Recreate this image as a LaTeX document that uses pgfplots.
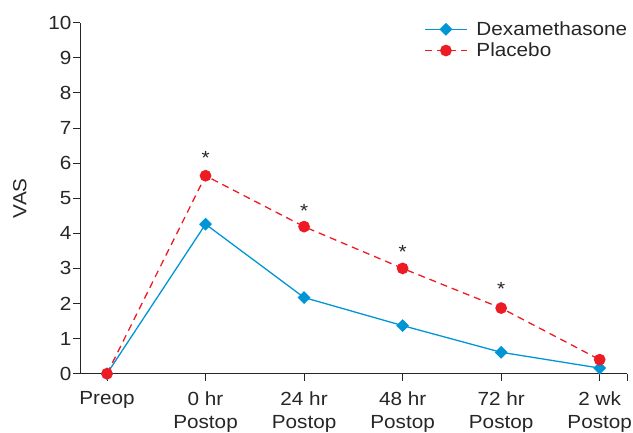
\documentclass[border=0pt]{standalone}
\usepackage{pgfplots}
\pgfplotsset{compat=1.18}
\usepackage{fontspec}
\setmainfont{Liberation Sans}[FakeStretch=1.09]
\definecolor{dexblue}{HTML}{0096D6}
\definecolor{plred}{HTML}{ED1C24}
\begin{document}
\begin{tikzpicture}
\begin{axis}[
  scale only axis,
  width=547pt, height=351pt,
  xmin=-0.274, xmax=5.277,
  ymin=0, ymax=10,
  axis lines=left,
  axis line style={-, line width=0.9pt, black!85},
  x axis line style={-},
  y axis line style={-},
  xtick={0,1,2,3,4,5},
  extra x ticks={5.277},
  extra x tick labels={},
  xticklabels={Preop,{0 hr\\Postop},{24 hr\\Postop},{48 hr\\Postop},{72 hr\\Postop},{2 wk\\Postop}},
  xticklabel style={align=center, font=\fontsize{19}{23.5}\selectfont, text=black!85, yshift=-7pt},
  ytick={0,1,...,10},
  yticklabel style={font=\fontsize{19}{22}\selectfont, text=black!85, xshift=2pt},
  /pgf/number format/assume math mode=true,
  tick align=outside,
  major tick length=7pt,
  tick style={line width=0.9pt, black!85},
  ylabel={VAS},
  ylabel style={font=\fontsize{19}{22}\selectfont, text=black!85, at={(axis description cs:-0.11,0.5)}, anchor=center},
  legend style={at={(1.01,1.015)}, anchor=north east, draw=none, fill=none,
    font=\fontsize{19}{22}\selectfont, text=black!85, row sep=2pt},
  legend cell align=left,
  legend image code/.code={\draw[mark repeat=2,mark phase=2,#1] plot coordinates {(0cm,0cm) (0.74cm,0cm) (1.48cm,0cm)}; \path (1.72cm,0cm);},
  clip=false,
]
\addplot[color=dexblue, line width=1.3pt, mark=square*, mark size=3.9pt, mark options={solid, fill=dexblue, rotate=45}]
  coordinates {(0,0) (1,4.26) (2,2.17) (3,1.37) (4,0.61) (5,0.16)};
\addlegendentry{Dexamethasone}
\addplot[color=plred, line width=1.3pt, dash pattern=on 7pt off 5pt, mark=*, mark size=5.2pt, mark options={solid, fill=plred}]
  coordinates {(0,0) (1,5.64) (2,4.19) (3,3.00) (4,1.87) (5,0.40)};
\addlegendentry{Placebo}
\node[anchor=north, inner sep=0pt, font=\fontsize{19}{22}\selectfont, text=black!85] at (axis cs:1,6.35) {*};
\node[anchor=north, inner sep=0pt, font=\fontsize{19}{22}\selectfont, text=black!85] at (axis cs:2,4.83) {*};
\node[anchor=north, inner sep=0pt, font=\fontsize{19}{22}\selectfont, text=black!85] at (axis cs:3,3.67) {*};
\node[anchor=north, inner sep=0pt, font=\fontsize{19}{22}\selectfont, text=black!85] at (axis cs:4,2.62) {*};
\end{axis}
\pgfresetboundingbox
\path[use as bounding box] ([xshift=-80pt,yshift=-58.3pt]current axis.south west) rectangle ([xshift=6pt,yshift=22.7pt]current axis.north east);
\end{tikzpicture}
\end{document}
